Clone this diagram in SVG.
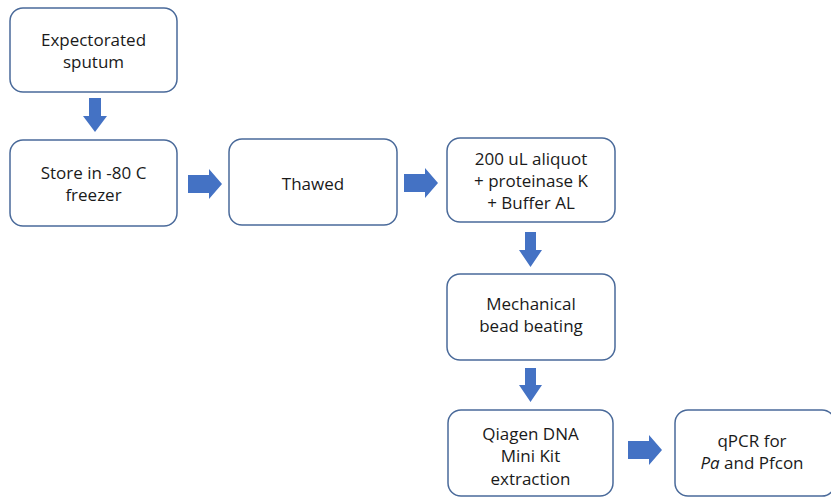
<svg xmlns="http://www.w3.org/2000/svg" width="831" height="498" viewBox="0 0 831 498">
<style>
.box{fill:#fff;stroke:#4A6A9A;stroke-width:1.5}
.t{font-family:"Open Sans","Liberation Sans",sans-serif;font-size:17px;fill:#1a1a1a;text-anchor:middle}
.arr{fill:#4472C4}
</style>
<rect width="831" height="498" fill="#fff"/>
<g id="n1"><rect class="box" x="10" y="8" width="167" height="84" rx="13"/><text class="t" x="93.5" y="46">Expectorated</text><text class="t" x="93.5" y="68">sputum</text></g>
<g id="n2"><rect class="box" x="10" y="140" width="167" height="86" rx="13"/><text class="t" x="93.5" y="179">Store in -80 C</text><text class="t" x="93.5" y="201">freezer</text></g>
<g id="n3"><rect class="box" x="229" y="139" width="168" height="86" rx="13"/><text class="t" x="313" y="190">Thawed</text></g>
<g id="n4"><rect class="box" x="447" y="138" width="168" height="84" rx="13"/><text class="t" x="531" y="165">200 uL aliquot</text><text class="t" x="531" y="187">+ proteinase K</text><text class="t" x="531" y="209">+ Buffer AL</text></g>
<g id="n5"><rect class="box" x="447" y="274" width="168" height="86" rx="13"/><text class="t" x="531" y="310">Mechanical</text><text class="t" x="531" y="332">bead beating</text></g>
<g id="n6"><rect class="box" x="448" y="410" width="165" height="86" rx="13"/><text class="t" x="530.5" y="440">Qiagen DNA</text><text class="t" x="530.5" y="462">Mini Kit</text><text class="t" x="530.5" y="485">extraction</text></g>
<g id="n7"><rect class="box" x="675" y="410" width="160" height="86" rx="13"/><text class="t" x="752" y="447">qPCR for</text><text class="t" x="752" y="469"><tspan font-style="italic">Pa</tspan> and Pfcon</text></g>
<g id="connectors">
<polygon class="arr" points="89,98 101,98 101,116 107,116 95,132 83,116 89,116"/>
<polygon class="arr" points="188,175 209,175 209,169 222,184 209,199 209,193 188,193"/>
<polygon class="arr" points="404,174 425,174 425,168 438,183 425,198 425,192 404,192"/>
<polygon class="arr" points="525,232 536,232 536,250 542,250 530.5,267 519,250 525,250"/>
<polygon class="arr" points="525,368 536,368 536,385 542,385 530.5,402 519,385 525,385"/>
<polygon class="arr" points="628,441 649,441 649,435 662,450 649,465 649,459 628,459"/>
</g>
</svg>
